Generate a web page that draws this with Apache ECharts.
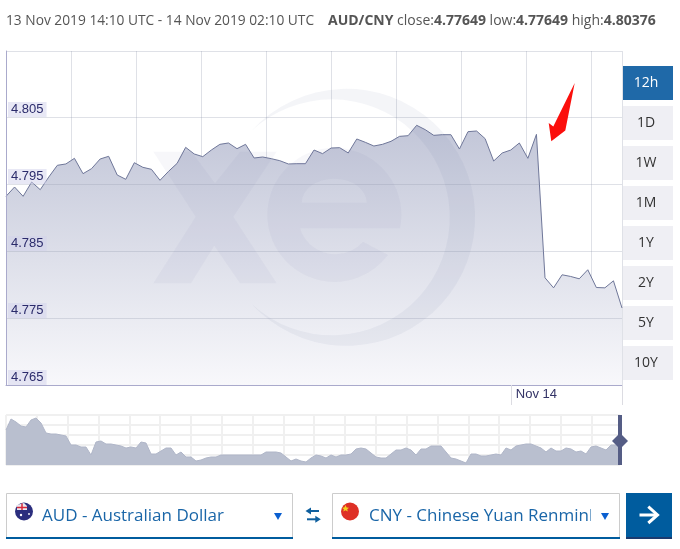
<!DOCTYPE html>
<html>
<head>
<meta charset="utf-8">
<style>html,body{margin:0;padding:0;background:#fff}#c{width:680px;height:549px}</style>
<script src="https://cdn.jsdelivr.net/npm/echarts@6/dist/echarts.min.js"></script>
</head>
<body>
<div id="c"></div>
<script>
var rateValues = [
4.79316,4.79455,4.79316,4.7953,4.79415,4.79604,4.79779,4.79799,4.79883,4.79654,
4.79729,4.79873,4.79913,4.79634,4.7957,4.79818,4.79749,4.79719,4.79555,4.79689,
4.79808,4.80047,4.79948,4.79908,4.80007,4.80092,4.80112,4.80027,4.80092,4.79888,
4.79903,4.79878,4.79848,4.79799,4.79803,4.79803,4.80007,4.79953,4.80037,4.80042,
4.79963,4.80172,4.80122,4.80067,4.80092,4.80137,4.80211,4.80221,4.80376,4.80311,
4.80226,4.80236,4.80236,4.80022,4.80281,4.80291,4.80177,4.79843,4.79963,4.80007,
4.80112,4.79883,4.80241,4.781,4.7795,4.78145,4.7812,4.78085,4.7822,4.77955,
4.7795,4.78055,4.77649];
var overviewValues = [
35,46,43,39,38,45,47,42,32,31,31,30,29,20,20,18,18,10,23,24,
21,21,20,19,17,18,17,23,22,11,11,14,17,17,10,13,8,8,4,5,
7,8,8,10,10,10,10,10,10,10,10,10,13,13,13,12,8,4,6,4,
3,7,10,9,7,10,8,10,10,11,16,17,16,12,8,7,7,11,15,15,
17,15,10,16,16,19,19,19,13,7,6,4,2,11,11,9,9,10,11,10,
17,15,19,20,21,21,19,17,13,17,14,14,17,16,13,14,11,18,19,17,
15,20,20,18,13,13];
var yTicks = ['4.765','4.775','4.785','4.795','4.805'];
var dateLabels = ['Nov 14'];
var dateTickIndex = [59, 72];
var ranges = ['12h','1D','1W','1M','1Y','2Y','5Y','10Y'];
var summaryLeft = '13 Nov 2019 14:10 UTC - 14 Nov 2019 02:10 UTC';
var summaryRight = '{b|AUD/CNY} close:{b|4.77649} low:{b|4.77649} high:{b|4.80376}';
var baseCurrency = 'AUD - Australian Dollar';
var quoteCurrency = 'CNY - Chinese Yuan Renminbi';

var UI = 'Open Sans';
var CH = 'Liberation Sans';
var blue = '#005c9e';
var mark = 'rgba(90,105,150,0.05)';
var ringMark = 'rgba(90,105,150,0.065)';
var gridColor = 'rgba(150,155,175,0.3)';
echarts.graphic.registerShape('logoE', echarts.graphic.extendPath('M400 228.3A67 67 0 1 0 388 255L363 241.7A37 37 0 0 1 300 228.3ZM301.7 202.7A32.5 24 0 0 1 366.7 202.7Z'));
echarts.graphic.registerShape('logoRing', echarts.graphic.extendPath('M251.7 130.7A128.5 128.5 0 1 1 251.7 304A118 118 0 1 0 251.7 130.7Z'));
var g = [];
function txt(x,y,t,o){g.push({type:'text',silent:true,z:20,x:x,y:y,style:Object.assign({text:t,fontFamily:UI,fontSize:13,fill:'#555',verticalAlign:'middle'},o||{})});}
function rect(x,y,w,h,fill,stroke,z){g.push({type:'rect',silent:true,z:z||15,shape:{x:x,y:y,width:w,height:h},style:{fill:fill||'none',stroke:stroke||'none',lineWidth:1}});}
function poly(pts,fill,z){g.push({type:'polygon',silent:true,z:z||15,shape:{points:pts},style:{fill:fill}});}
function line(pts,stroke,lw,z){g.push({type:'polyline',silent:true,z:z||15,shape:{points:pts},style:{stroke:stroke,lineWidth:lw,fill:'none'}});}

// watermark
poly([[153.3,151.7],[191.7,151.7],[215,183.3],[240,151.7],[276.7,151.7],[233.3,216.7],[276.7,283.3],[240,283.3],[214.3,245.7],[191,283.3],[153.3,283.3],[195.7,216.7]],mark,5);
g.push({type:'logoE',silent:true,z:5,style:{fill:mark}});
g.push({type:'logoRing',silent:true,z:5,style:{fill:ringMark}});

// header
txt(6,21,summaryLeft,{fontSize:13.75});
txt(328,21,summaryRight,{fontSize:14,rich:{b:{fontWeight:'bold',fontFamily:UI,fontSize:14,fill:'#555'}}});

// range buttons
ranges.forEach(function(r,i){
  var y=66+i*40;
  rect(623,y,50,34,i===0?'#1f69a8':'#efeff4');
  txt(646,y+17.5,r,{fontSize:14,align:'center',fill:i===0?'#fff':'#333'});
});

// annotation arrow
poly([[574.7,83],[565.3,130.5],[551.3,141.3],[548.7,123],[553.3,126.5]],'#fb0f0c',18);

// overview handle
rect(618,415,4,50,'#555d85',null,16);
poly([[620,433],[628,441],[620,449],[612,441]],'#555d85',16);

// selectors
function selector(x,w,textX,label){
  rect(x+0.5,493.5,w,44.5,'#fff','#ccc',10);
  rect(x,537,w+1,2,blue,null,11);
  txt(textX,516,label,{fontSize:17,fill:'#1a66a8'});
}
selector(6,286,42,baseCurrency);
selector(332,287,369,quoteCurrency);
rect(591,495,27,40,'#fff',null,20.5);
poly([[274,513],[282,513],[278,520]],'#0a5fd0',22);
poly([[601,513],[609,513],[605,520]],'#0a5fd0',22);

// flags
g.push({type:'circle',silent:true,z:21,shape:{cx:24,cy:511.5,r:9},style:{fill:'#2b2e7e'}});
poly([[17,505],[24,503],[27,506],[27,510],[17,510]],'#e8e8f0',22);
line([[17,507.5],[27,507.5]],'#d8283a',1.5,23);
line([[22,503.5],[22,510]],'#d8283a',1.5,23);
g.push({type:'circle',silent:true,z:22,shape:{cx:21,cy:515,r:1.2},style:{fill:'#fff'}});
g.push({type:'circle',silent:true,z:22,shape:{cx:29,cy:514,r:0.9},style:{fill:'#fff'}});
g.push({type:'circle',silent:true,z:21,shape:{cx:350,cy:511.5,r:9},style:{fill:'#de3026'}});
poly([[345.5,505],[346.6,507.5],[349,507.7],[347.2,509.2],[347.8,511.5],[345.5,510.2],[343.3,511.5],[343.9,509.2],[342,507.7],[344.4,507.5]],'#f5d020',22);

// swap icon
line([[319,511],[308,511]],'#0e5f9e',2,21);
poly([[305.5,511],[311,507.5],[311,514.5]],'#0e5f9e',21);
line([[307,519.3],[318,519.3]],'#0e5f9e',2,21);
poly([[320.8,519.3],[315.3,515.8],[315.3,522.8]],'#0e5f9e',21);

// submit
rect(626,493,46,46,blue,null,12);
rect(626,537,46,2,'#1b3a6e',null,13);
line([[639.5,515],[657,515]],'#fff',3,14);
line([[648.3,506.7],[657.5,515],[648.3,523]],'#fff',3,14);

var chart = echarts.init(document.getElementById('c'),null,{renderer:'canvas'});
chart.setOption({
  animation:false,
  backgroundColor:'#fff',
  grid:[
    {left:6,top:51,width:616,height:334,containLabel:false},
    {left:6,top:415,width:614,height:50,containLabel:false}
  ],
  xAxis:[
    {gridIndex:0,type:'value',position:'bottom',z:3,min:0,max:72,interval:7.6,
      axisLine:{show:false},axisTick:{show:false},axisLabel:{show:false},
      splitLine:{show:true,lineStyle:{color:gridColor,width:1}}},
    {gridIndex:0,type:'value',position:'bottom',z:4,min:0,max:72,
      axisLine:{show:true,lineStyle:{color:'#aaaacc',width:1}},
      axisTick:{show:true,customValues:dateTickIndex,length:20,lineStyle:{color:'#dcdce2'}},
      axisLabel:{show:true,customValues:[dateTickIndex[0]],margin:3,align:'left',padding:[0,0,0,5],
        color:'#333366',fontFamily:CH,fontSize:13,formatter:function(){return dateLabels[0];}},
      splitLine:{show:false}},
    {gridIndex:1,type:'value',position:'bottom',min:0,max:122.8,interval:6.164,
      axisLine:{show:false},axisTick:{show:false},axisLabel:{show:false},
      splitLine:{show:true,lineStyle:{color:'#f0f0f0',width:2}}}
  ],
  yAxis:[
    {gridIndex:0,type:'value',position:'left',z:4,min:4.765,max:4.81485,interval:0.01,
      axisLine:{show:true,lineStyle:{color:'#aaaacc',width:1}},axisTick:{show:false},
      axisLabel:{show:true,inside:true,margin:2,showMaxLabel:false,showMinLabel:true,
        verticalAlign:'bottom',align:'left',color:'#2b2b6b',fontFamily:CH,fontSize:13,
        backgroundColor:'rgba(210,210,235,0.5)',padding:[1,3,1,3],
        formatter:function(v){var s=v.toFixed(3);return yTicks.indexOf(s)>=0?s:'';}},
      splitLine:{show:true,lineStyle:{color:gridColor,width:1}}},
    {gridIndex:1,type:'value',position:'left',min:0,max:50,interval:10,
      axisLine:{show:false},axisTick:{show:false},axisLabel:{show:false},
      splitLine:{show:true,lineStyle:{color:'#f0f0f0',width:2}}}
  ],
  series:[
    {type:'line',xAxisIndex:0,yAxisIndex:0,symbol:'none',smooth:false,
      data:rateValues.map(function(v,i){return [i,v];}),
      lineStyle:{color:'#6f7799',width:1},
      areaStyle:{origin:'start',opacity:1,color:new echarts.graphic.LinearGradient(0,0,0,1,[{offset:0,color:'#c2c6d8'},{offset:1,color:'#f8f8fb'}])}},
    {type:'line',xAxisIndex:2,yAxisIndex:1,symbol:'none',smooth:false,
      data:overviewValues.map(function(v,i){return [i,v];}),
      lineStyle:{color:'#b0b6c8',width:1},
      areaStyle:{origin:'start',opacity:1,color:'#b9bfcf'}}
  ],
  graphic:{elements:g}
});
</script>
</body>
</html>
